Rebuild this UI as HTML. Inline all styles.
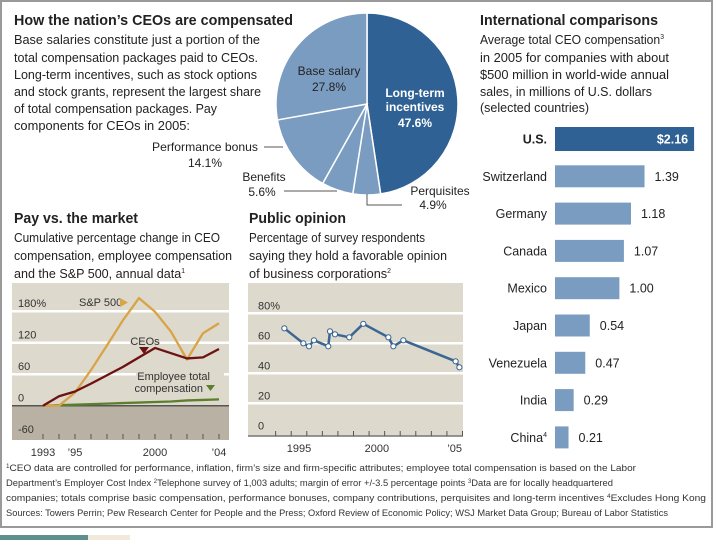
<!DOCTYPE html>
<html><head><meta charset="utf-8"><style>
body{margin:0;background:#fff;}
svg{display:block;font-family:"Liberation Sans",sans-serif;}
</style></head><body>
<svg id="s" width="720" height="540" viewBox="0 0 720 540" xmlns="http://www.w3.org/2000/svg">
<rect x="1" y="1" width="711" height="526" fill="#fff" stroke="#9a9a9a" stroke-width="2"/>
<rect x="0" y="535" width="88" height="5" fill="#5f8f8a"/>
<rect x="88" y="535" width="42" height="5" fill="#f1e9dc"/>

<g font-size="13" fill="#222">
<text x="14" y="25" font-weight="bold" font-size="15" textLength="279" lengthAdjust="spacingAndGlyphs">How the nation’s CEOs are compensated</text>
<text x="14" y="44" textLength="246" lengthAdjust="spacingAndGlyphs">Base salaries constitute just a portion of the</text>
<text x="14" y="62" textLength="244" lengthAdjust="spacingAndGlyphs">total compensation packages paid to CEOs.</text>
<text x="14" y="79" textLength="243" lengthAdjust="spacingAndGlyphs">Long-term incentives, such as stock options</text>
<text x="14" y="96" textLength="247" lengthAdjust="spacingAndGlyphs">and stock grants, represent the largest share</text>
<text x="14" y="113" textLength="203" lengthAdjust="spacingAndGlyphs">of total compensation packages. Pay</text>
<text x="14" y="130" textLength="176" lengthAdjust="spacingAndGlyphs">components for CEOs in 2005:</text>
<g id="pie"></g>
<text x="329" y="75" text-anchor="middle" font-size="12">Base salary</text>
<text x="329" y="91" text-anchor="middle" font-size="12">27.8%</text>
<text x="415" y="97" text-anchor="middle" font-size="12" font-weight="bold" fill="#fff">Long-term</text>
<text x="415" y="111" text-anchor="middle" font-size="12" font-weight="bold" fill="#fff">incentives</text>
<text x="415" y="127" text-anchor="middle" font-size="12" font-weight="bold" fill="#fff">47.6%</text>
<text x="258" y="151" text-anchor="end" font-size="12" textLength="106" lengthAdjust="spacingAndGlyphs">Performance bonus</text>
<text x="205" y="167" text-anchor="middle" font-size="12">14.1%</text>
<line x1="264" y1="147" x2="283" y2="147" stroke="#555"/>
<text x="264" y="181" text-anchor="middle" font-size="12">Benefits</text>
<text x="262" y="196" text-anchor="middle" font-size="12">5.6%</text>
<line x1="284" y1="191" x2="337" y2="191" stroke="#555"/>
<text x="440" y="195" text-anchor="middle" font-size="12">Perquisites</text>
<text x="433" y="209" text-anchor="middle" font-size="12">4.9%</text>
<polyline points="367,194 367,205 402,205" fill="none" stroke="#555"/>
</g>

<g font-size="13" fill="#222">
<text x="480" y="25" font-weight="bold" font-size="15" textLength="178" lengthAdjust="spacingAndGlyphs">International comparisons</text>
<text x="480" y="44" font-size="12.5" textLength="184" lengthAdjust="spacingAndGlyphs">Average total CEO compensation<tspan font-size="7" dy="-5">3</tspan></text>
<text x="480" y="62" font-size="12.5" textLength="189" lengthAdjust="spacingAndGlyphs">in 2005 for companies with about</text>
<text x="480" y="79" font-size="12.5" textLength="189" lengthAdjust="spacingAndGlyphs">$500 million in world-wide annual</text>
<text x="480" y="96" font-size="12.5" textLength="172" lengthAdjust="spacingAndGlyphs">sales, in millions of U.S. dollars</text>
<text x="480" y="112" font-size="12.5" textLength="109" lengthAdjust="spacingAndGlyphs">(selected countries)</text>
<g id="bars"></g>
</g>

<g font-size="13" fill="#222">
<text x="14" y="223" font-weight="bold" font-size="14.5" textLength="124" lengthAdjust="spacingAndGlyphs">Pay vs. the market</text>
<text x="14" y="242" textLength="206" lengthAdjust="spacingAndGlyphs">Cumulative percentage change in CEO</text>
<text x="14" y="260" textLength="218" lengthAdjust="spacingAndGlyphs">compensation, employee compensation</text>
<text x="14" y="278" textLength="171" lengthAdjust="spacingAndGlyphs">and the S&amp;P 500, annual data<tspan font-size="7" dy="-5">1</tspan></text>
<g id="market"></g>
</g>

<g font-size="13" fill="#222">
<text x="249" y="223" font-weight="bold" font-size="14.5" textLength="97" lengthAdjust="spacingAndGlyphs">Public opinion</text>
<text x="249" y="242" textLength="176" lengthAdjust="spacingAndGlyphs">Percentage of survey respondents</text>
<text x="249" y="260" textLength="198" lengthAdjust="spacingAndGlyphs">saying they hold a favorable opinion</text>
<text x="249" y="278" textLength="142" lengthAdjust="spacingAndGlyphs">of business corporations<tspan font-size="7" dy="-5">2</tspan></text>
<g id="opinion"></g>
</g>

<g font-size="9.5" fill="#333">
<text x="6" y="471" textLength="630" lengthAdjust="spacingAndGlyphs"><tspan font-size="6" dy="-3">1</tspan><tspan dy="3">CEO data are controlled for performance, inflation, firm’s size and firm-specific attributes; employee total compensation is based on the Labor</tspan></text>
<text x="6" y="486" textLength="607" lengthAdjust="spacingAndGlyphs">Department’s Employer Cost Index <tspan font-size="6" dy="-3">2</tspan><tspan dy="3">Telephone survey of 1,003 adults; margin of error +/-3.5 percentage points </tspan><tspan font-size="6" dy="-3">3</tspan><tspan dy="3">Data are for locally headquartered</tspan></text>
<text x="6" y="501" textLength="700" lengthAdjust="spacingAndGlyphs">companies; totals comprise basic compensation, performance bonuses, company contributions, perquisites and long-term incentives <tspan font-size="6" dy="-3">4</tspan><tspan dy="3">Excludes Hong Kong</tspan></text>
<text x="6" y="516" textLength="662" lengthAdjust="spacingAndGlyphs">Sources: Towers Perrin; Pew Research Center for People and the Press; Oxford Review of Economic Policy; WSJ Market Data Group; Bureau of Labor Statistics</text>
</g>
</svg>
<script>
// ---- Pie data ----
const pieLabels = ["Long-term incentives","Perquisites","Benefits","Performance bonus","Base salary"];
const pieValues = [47.6, 4.9, 5.6, 14.1, 27.8];
const pieColors = ["#2f6195","#7a9cc1","#7a9cc1","#7a9cc1","#7a9cc1"];
// ---- Bar data ----
const countries = ["U.S.","Switzerland","Germany","Canada","Mexico","Japan","Venezuela","India","China"];
const compValues = [2.16,1.39,1.18,1.07,1.00,0.54,0.47,0.29,0.21];
const compLabels = ["$2.16","1.39","1.18","1.07","1.00","0.54","0.47","0.29","0.21"];
// ---- Market chart data ----
const marketYears = [1993,1994,1995,1996,1997,1998,1999,2000,2001,2002,2003,2004];
const spValues = [0,0,25,68,115,163,205,179,141,88,138,157];
const ceoValues = [0,18,27,42,58,74,92,110,100,90,92,108];
const employeeValues = [0,1,2,3,4,5,6,7,8,10,11,12];
const marketTicks = [180,120,60,0,-60];
const marketTickLabels = ["180%","120","60","0","-60"];
const marketXLabels = [[1993,"1993"],[1995,"’95"],[2000,"2000"],[2004,"’04"]];
// ---- Opinion chart data ----
const opinionYears = [1994.06,1995.28,1995.64,1995.96,1996.88,1996.99,1997.31,1998.23,1999.13,2000.74,2001.06,2001.7,2005.06,2005.3];
const opinionValues = [70,60,58,62,58,68,66,64,73,64,58,62,48,44];
const opinionTicks = [80,60,40,20,0];
const opinionTickLabels = ["80%","60","40","20","0"];
const opinionXLabels = [[1995,"1995"],[2000,"2000"],[2005,"’05"]];

const NS="http://www.w3.org/2000/svg";
function mk(tag, attrs, parent, txt){const e=document.createElementNS(NS,tag);for(const k in attrs)e.setAttribute(k,attrs[k]);if(txt!==undefined)e.textContent=txt;parent.appendChild(e);return e;}

// Pie
(function(){
  const g=document.getElementById('pie');const cx=367,cy=104,r=91;
  const total=pieValues.reduce((a,b)=>a+b,0);let a0=-Math.PI/2;
  pieValues.forEach((v,i)=>{
    const a1=a0+v/total*2*Math.PI;
    const x0=cx+r*Math.cos(a0),y0=cy+r*Math.sin(a0),x1=cx+r*Math.cos(a1),y1=cy+r*Math.sin(a1);
    const p=mk('path',{d:`M${cx},${cy}L${x0},${y0}A${r},${r} 0 ${a1-a0>Math.PI?1:0} 1 ${x1},${y1}Z`,fill:pieColors[i],stroke:'#fff','stroke-width':1.5},g);
    
    
    a0=a1;
  });
})();

// Bars
(function(){
  const g=document.getElementById('bars');const x0=555,scale=64.4,y0=139,step=37.3;
  countries.forEach((c,i)=>{
    const cy=y0+i*step;const us=i===0;const h=us?24:22;const w=compValues[i]*scale;
    const b=mk('rect',{x:x0,y:cy-h/2,width:w,height:h,fill:us?'#2f6195':'#7a9cc1'},g);
    
    
    const t=mk('text',{x:547,y:cy+4.5,'text-anchor':'end','font-size':12.5,'font-weight':us?'bold':'normal'},g,c);
    
    
    if(c==='China'){mk('tspan',{'font-size':7,dy:-5},t,'4');}
    const v=mk('text',{x:us?x0+w-6:x0+w+10,y:cy+4.5,'text-anchor':us?'end':'start','font-size':12.5,'font-weight':us?'bold':'normal',fill:us?'#fff':'#222'},g,compLabels[i]);
    
    
  });
})();

// Market chart
(function(){
  const g=document.getElementById('market');
  const L=12,R=229,T=283,B=440;
  const X=yr=>43+(yr-1993)*16;
  const Y=v=>405.7-v*0.525;
  const bg=mk('rect',{x:L,y:T,width:R-L,height:Y(0)-T,fill:'#ddd9cd'},g);
  
  
  const neg=mk('rect',{x:L,y:Y(0),width:R-L,height:B-Y(0),fill:'#b9b2a4'},g);
  
  
  marketTicks.forEach((t,i)=>{
    if(t>0&&t<=180){const l=mk('line',{x1:L,x2:R,y1:Y(t),y2:Y(t),stroke:'#fff','stroke-width':2.5},g);
      
      }
    const tx=mk('text',{x:18,y:Y(t)-4,'font-size':11,fill:'#333'},g,marketTickLabels[i]);
    
    
  });
  const zl=mk('line',{x1:L,x2:R,y1:Y(0),y2:Y(0),stroke:'#555','stroke-width':1.5},g);
  
  
  for(let yr=1993;yr<=2004;yr++){const tk=mk('line',{x1:X(yr),x2:X(yr),y1:B-6,y2:B-1,stroke:'#555'},g);
    
    }
  marketXLabels.forEach(([yr,lab])=>{const t=mk('text',{x:X(yr),y:456,'text-anchor':'middle','font-size':11,fill:'#333'},g,lab);
    
    });
  const lb1=mk('rect',{x:75,y:295,width:56,height:14,fill:'#ddd9cd'},g);
  
  
  const lb2=mk('rect',{x:130,y:336,width:30,height:15,fill:'#ddd9cd'},g);
  
  
  const lb3=mk('rect',{x:136,y:367,width:88,height:28,fill:'#ddd9cd'},g);
  
  
  const series=[[employeeValues,'#5b7f2d','employee-line'],[spValues,'#d8a447','sp500-line'],[ceoValues,'#6d1212','ceo-line']];
  series.forEach(([vals,col,name])=>{
    const pts=marketYears.map((yr,i)=>X(yr)+','+Y(vals[i])).join(' ');
    const pl=mk('polyline',{points:pts,fill:'none',stroke:col,'stroke-width':2.3,'stroke-linejoin':'round'},g);
    
    
  });
  const t1=mk('text',{x:79,y:306,'font-size':11,fill:'#333'},g,'S&P 500');
  
  
  const tr1=mk('polygon',{points:'120,298 128,302.5 120,307',fill:'#d8a447'},g);
  
  
  const t2=mk('text',{x:145,y:345,'text-anchor':'middle','font-size':11,fill:'#333'},g,'CEOs');
  
  
  const tr2=mk('polygon',{points:'139,347 149,347 144,354',fill:'#6d1212'},g);
  
  
  const t3=mk('text',{x:210,y:380,'text-anchor':'end','font-size':11,fill:'#333'},g,'Employee total');
  
  
  const t4=mk('text',{x:203,y:392,'text-anchor':'end','font-size':11,fill:'#333'},g,'compensation');
  
  
  const tr3=mk('polygon',{points:'206,385 215,385 210.5,391',fill:'#5b7f2d'},g);
  
  
})();

// Opinion chart
(function(){
  const g=document.getElementById('opinion');
  const L=248,R=463,T=283,B=436;
  const X=yr=>299+(yr-1995)*15.57;
  const Y=v=>433.3-v*1.5;
  const bg=mk('rect',{x:L,y:T,width:R-L,height:B-T,fill:'#ddd9cd'},g);
  
  
  opinionTicks.forEach((t,i)=>{
    if(t>0){const l=mk('line',{x1:L,x2:R,y1:Y(t),y2:Y(t),stroke:'#fff','stroke-width':2.5},g);
      
      }
    const tx=mk('text',{x:258,y:Y(t)-4,'font-size':11,fill:'#333'},g,opinionTickLabels[i]);
    
    
  });
  const bl=mk('line',{x1:L,x2:R,y1:B,y2:B,stroke:'#777','stroke-width':1.5},g);
  
  
  for(let yr=1993.5;yr<=2006;yr++){const tk=mk('line',{x1:X(yr),x2:X(yr),y1:B-5,y2:B,stroke:'#555'},g);
    
    }
  opinionXLabels.forEach(([yr,lab])=>{const t=mk('text',{x:X(yr),y:452,'text-anchor':'middle','font-size':11,fill:'#333'},g,lab);
    
    });
  const pts=opinionYears.map((yr,i)=>X(yr)+','+Y(opinionValues[i])).join(' ');
  const pl=mk('polyline',{points:pts,fill:'none',stroke:'#3a6694','stroke-width':2.5,'stroke-linejoin':'round'},g);
  
  
  opinionYears.forEach((yr,i)=>{const c=mk('circle',{cx:X(yr),cy:Y(opinionValues[i]),r:2.6,fill:'#fff',stroke:'#3a6694','stroke-width':1},g);
    
    });
})();
</script>
</body></html>
